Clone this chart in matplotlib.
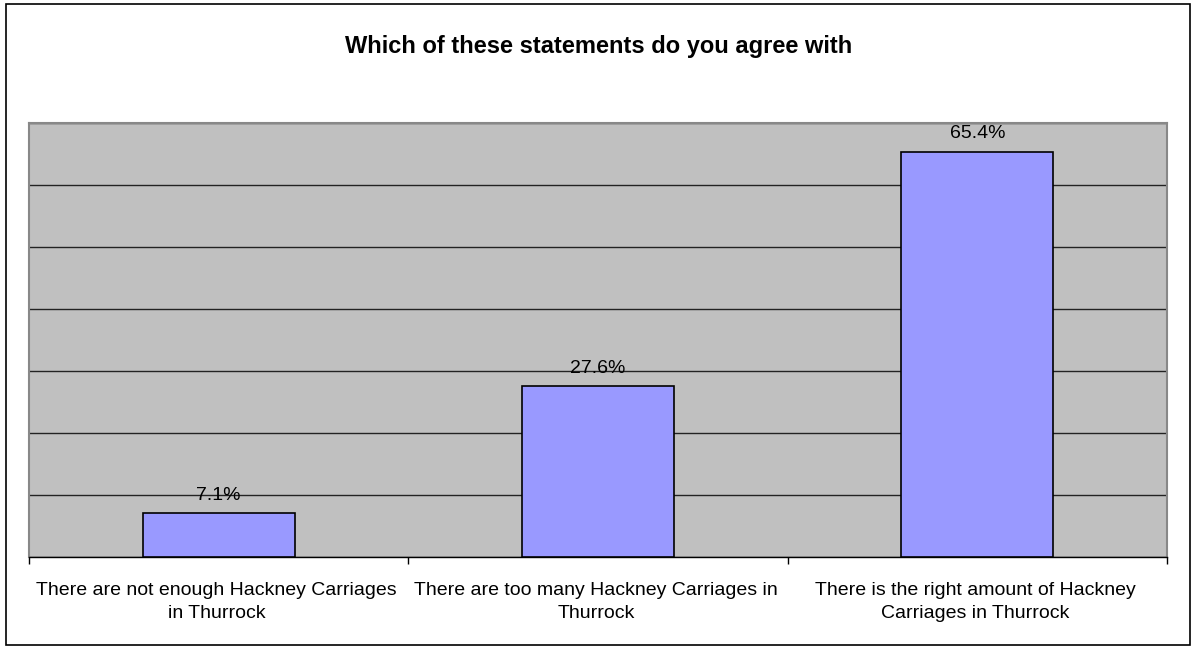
import matplotlib.pyplot as plt
from matplotlib.patches import Rectangle

categories = [
    "There are not enough Hackney Carriages\nin Thurrock",
    "There are too many Hackney Carriages in\nThurrock",
    "There is the right amount of Hackney\nCarriages in Thurrock",
]
percent = [7.1, 27.6, 65.4]
y_ticks = [0, 10, 20, 30, 40, 50, 60, 70]

plt.rcParams['font.family'] = ['Liberation Sans', 'DejaVu Sans']

fig = plt.figure(figsize=(11.97, 6.49), dpi=100)
# outer frame round the whole chart
fig.patches.append(Rectangle((6 / 1197, 4 / 649), 1184 / 1197, 641 / 649,
                             transform=fig.transFigure, fill=False,
                             edgecolor='black', linewidth=1.2))

ax = fig.add_axes([29 / 1197, (649 - 557) / 649, 1138 / 1197, 434 / 649])
ax.set_facecolor('#c0c0c0')

x = range(len(categories))
ax.bar(x, percent, width=0.4, color='#9999ff', edgecolor='black', linewidth=1.2, zorder=3)
for xi, v in zip(x, percent):
    ax.text(xi, v + 1.5, f"{v}%", ha='center', va='bottom', fontsize=14, zorder=4)

ax.set_xlim(-0.5, len(categories) - 0.5)
ax.set_ylim(0, 70)
ax.set_yticks(y_ticks)
ax.yaxis.grid(True, color='#222222', linewidth=1)
ax.tick_params(axis='y', left=False, labelleft=False)

# category boundaries carry the tick marks
ax.set_xticks([i - 0.5 for i in range(len(categories) + 1)])
ax.set_xticklabels([])
ax.tick_params(axis='x', direction='out', length=5, width=1, color='black')
for xi, label in zip(x, categories):
    ax.text(xi - 0.005, -4.0, label, ha='center', va='top', fontsize=14, linespacing=1.5)

for side in ('left', 'top', 'right'):
    ax.spines[side].set_color('#888888')
    ax.spines[side].set_linewidth(1.5)
ax.spines['bottom'].set_color('black')
ax.spines['bottom'].set_linewidth(1)

fig.text(599 / 1197, 1 - 47 / 649, "Which of these statements do you agree with",
         ha='center', va='center', fontsize=17, fontweight='bold')

fig.savefig('out.png', dpi=100)
